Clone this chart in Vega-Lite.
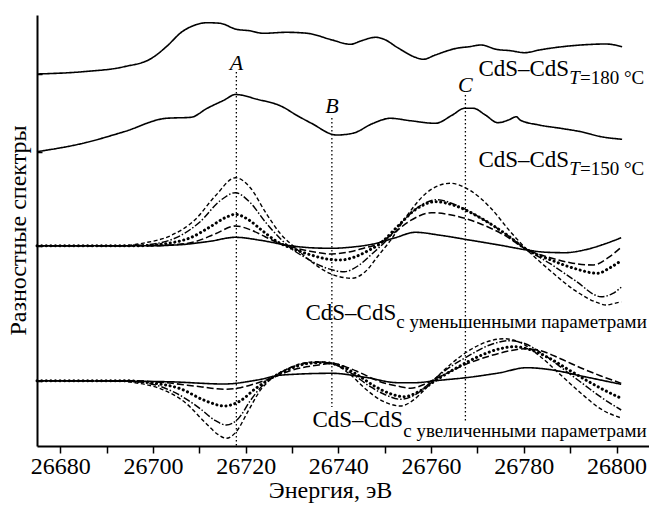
{
  "$schema": "https://vega.github.io/schema/vega-lite/v6.json",
  "width": 612,
  "height": 431,
  "autosize": {"type": "none"},
  "padding": {"left": 37, "top": 15, "right": 0, "bottom": 59},
  "background": "white",
  "config": {"view": {"stroke": null}, "font": "Liberation Serif"},
  "datasets": {
    "curves": [
      {"g":"t180","s":"solid","E":26675,"y":372},{"g":"t180","s":"solid","E":26684.9,"y":374.3},{"g":"t180","s":"solid","E":26693.8,"y":379.3},{"g":"t180","s":"solid","E":26699.7,"y":387.7},{"g":"t180","s":"solid","E":26702.9,"y":399.3},{"g":"t180","s":"solid","E":26706.3,"y":414.3},{"g":"t180","s":"solid","E":26709.1,"y":421},{"g":"t180","s":"solid","E":26711.7,"y":423.3},{"g":"t180","s":"solid","E":26714.5,"y":422.7},{"g":"t180","s":"solid","E":26718.0,"y":416.7},{"g":"t180","s":"solid","E":26720.8,"y":415.3},{"g":"t180","s":"solid","E":26723.8,"y":412.7},{"g":"t180","s":"solid","E":26728.8,"y":413.7},{"g":"t180","s":"solid","E":26733.3,"y":412.7},{"g":"t180","s":"solid","E":26738.7,"y":406},{"g":"t180","s":"solid","E":26742.6,"y":401.7},{"g":"t180","s":"solid","E":26745.0,"y":405.3},{"g":"t180","s":"solid","E":26748.0,"y":408.7},{"g":"t180","s":"solid","E":26749.7,"y":407},{"g":"t180","s":"solid","E":26753.0,"y":397.7},{"g":"t180","s":"solid","E":26756.6,"y":388.7},{"g":"t180","s":"solid","E":26758.3,"y":386.7},{"g":"t180","s":"solid","E":26760.9,"y":391},{"g":"t180","s":"solid","E":26765.5,"y":397.7},{"g":"t180","s":"solid","E":26768.2,"y":399.3},{"g":"t180","s":"solid","E":26770.8,"y":401},{"g":"t180","s":"solid","E":26774.0,"y":396.7},{"g":"t180","s":"solid","E":26777.1,"y":395.3},{"g":"t180","s":"solid","E":26780.2,"y":393.3},{"g":"t180","s":"solid","E":26783.3,"y":396},{"g":"t180","s":"solid","E":26792.3,"y":401},{"g":"t180","s":"solid","E":26797.7,"y":402},{"g":"t180","s":"solid","E":26801.2,"y":399.3},

      {"g":"t150","s":"solid","E":26675,"y":294.3},{"g":"t150","s":"solid","E":26684.9,"y":302.7},{"g":"t150","s":"solid","E":26693.8,"y":314.3},{"g":"t150","s":"solid","E":26702.9,"y":327.7},{"g":"t150","s":"solid","E":26708.2,"y":328.7},{"g":"t150","s":"solid","E":26711.7,"y":337.7},{"g":"t150","s":"solid","E":26715.4,"y":346},{"g":"t150","s":"solid","E":26717.8,"y":351.5},{"g":"t150","s":"solid","E":26722.5,"y":346.7},{"g":"t150","s":"solid","E":26727.9,"y":339.3},{"g":"t150","s":"solid","E":26730.9,"y":331},{"g":"t150","s":"solid","E":26734.2,"y":322.7},{"g":"t150","s":"solid","E":26739.6,"y":311},{"g":"t150","s":"solid","E":26743.1,"y":312.7},{"g":"t150","s":"solid","E":26747.5,"y":322.7},{"g":"t150","s":"solid","E":26751.2,"y":327.7},{"g":"t150","s":"solid","E":26755.5,"y":325.3},{"g":"t150","s":"solid","E":26760.9,"y":322.7},{"g":"t150","s":"solid","E":26764.6,"y":331},{"g":"t150","s":"solid","E":26767.2,"y":337.7},{"g":"t150","s":"solid","E":26769.1,"y":337.7},{"g":"t150","s":"solid","E":26771.7,"y":331},{"g":"t150","s":"solid","E":26774.4,"y":323.3},{"g":"t150","s":"solid","E":26776.7,"y":326},{"g":"t150","s":"solid","E":26778.4,"y":329.3},{"g":"t150","s":"solid","E":26779.2,"y":326},{"g":"t150","s":"solid","E":26783.3,"y":321},{"g":"t150","s":"solid","E":26787.9,"y":317.7},{"g":"t150","s":"solid","E":26792.3,"y":314.3},{"g":"t150","s":"solid","E":26796.7,"y":309.3},{"g":"t150","s":"solid","E":26801.2,"y":306.7},

      {"g":"dec","s":"solid","E":26675,"y":200.3},{"g":"dec","s":"solid","E":26699.4,"y":200.3},{"g":"dec","s":"solid","E":26705.9,"y":201.3},{"g":"dec","s":"solid","E":26712.4,"y":204.8},{"g":"dec","s":"solid","E":26717.8,"y":208.7},{"g":"dec","s":"solid","E":26723.1,"y":205.8},{"g":"dec","s":"solid","E":26729.6,"y":200.3},{"g":"dec","s":"solid","E":26733.9,"y":198.3},{"g":"dec","s":"solid","E":26738.5,"y":197.7},{"g":"dec","s":"solid","E":26742.6,"y":198.8},{"g":"dec","s":"solid","E":26747.5,"y":202},{"g":"dec","s":"solid","E":26752.3,"y":208.3},{"g":"dec","s":"solid","E":26756.6,"y":213.7},{"g":"dec","s":"solid","E":26761.9,"y":210.8},{"g":"dec","s":"solid","E":26768.2,"y":206},{"g":"dec","s":"solid","E":26774.9,"y":200.8},{"g":"dec","s":"solid","E":26780.7,"y":196},{"g":"dec","s":"solid","E":26784.6,"y":193.8},{"g":"dec","s":"solid","E":26788.8,"y":193.3},{"g":"dec","s":"solid","E":26793.3,"y":196.3},{"g":"dec","s":"solid","E":26797.6,"y":202.3},{"g":"dec","s":"solid","E":26801.0,"y":208.3},

      {"g":"dec","s":"dash","E":26675,"y":200.3},{"g":"dec","s":"dash","E":26699.4,"y":200.3},{"g":"dec","s":"dash","E":26704.8,"y":201.3},{"g":"dec","s":"dash","E":26709.1,"y":204.3},{"g":"dec","s":"dash","E":26713.5,"y":212.3},{"g":"dec","s":"dash","E":26717.8,"y":220},{"g":"dec","s":"dash","E":26721.0,"y":216.3},{"g":"dec","s":"dash","E":26724.2,"y":209.3},{"g":"dec","s":"dash","E":26727.5,"y":202.3},{"g":"dec","s":"dash","E":26729.6,"y":199.3},{"g":"dec","s":"dash","E":26733.9,"y":194.8},{"g":"dec","s":"dash","E":26738.5,"y":192},{"g":"dec","s":"dash","E":26742.6,"y":194.3},{"g":"dec","s":"dash","E":26745.8,"y":198.3},{"g":"dec","s":"dash","E":26747.5,"y":200.3},{"g":"dec","s":"dash","E":26751.2,"y":210.3},{"g":"dec","s":"dash","E":26755.5,"y":225.3},{"g":"dec","s":"dash","E":26760.1,"y":233.3},{"g":"dec","s":"dash","E":26764.1,"y":231.3},{"g":"dec","s":"dash","E":26770.6,"y":222.3},{"g":"dec","s":"dash","E":26776.0,"y":210.3},{"g":"dec","s":"dash","E":26780.7,"y":196.3},{"g":"dec","s":"dash","E":26785.7,"y":188.3},{"g":"dec","s":"dash","E":26790.0,"y":183.3},{"g":"dec","s":"dash","E":26795.0,"y":181},{"g":"dec","s":"dash","E":26798.2,"y":188.3},{"g":"dec","s":"dash","E":26801.0,"y":198.7},

      {"g":"dec","s":"dot","E":26675,"y":200.3},{"g":"dec","s":"dot","E":26697.3,"y":200.3},{"g":"dec","s":"dot","E":26702.7,"y":202.3},{"g":"dec","s":"dot","E":26708.1,"y":208.3},{"g":"dec","s":"dot","E":26712.4,"y":219.3},{"g":"dec","s":"dot","E":26715.6,"y":228.3},{"g":"dec","s":"dot","E":26717.8,"y":231.7},{"g":"dec","s":"dot","E":26720.6,"y":226.3},{"g":"dec","s":"dot","E":26723.6,"y":215.3},{"g":"dec","s":"dot","E":26726.8,"y":204.3},{"g":"dec","s":"dot","E":26729.6,"y":198.3},{"g":"dec","s":"dot","E":26733.9,"y":191.3},{"g":"dec","s":"dot","E":26737.2,"y":187.3},{"g":"dec","s":"dot","E":26740.4,"y":186},{"g":"dec","s":"dot","E":26743.7,"y":189.3},{"g":"dec","s":"dot","E":26746.4,"y":195.3},{"g":"dec","s":"dot","E":26749.0,"y":202.3},{"g":"dec","s":"dot","E":26752.3,"y":217.3},{"g":"dec","s":"dot","E":26756.6,"y":236.3},{"g":"dec","s":"dot","E":26760.9,"y":244.3},{"g":"dec","s":"dot","E":26765.2,"y":240.3},{"g":"dec","s":"dot","E":26770.6,"y":228.3},{"g":"dec","s":"dot","E":26776.0,"y":212.3},{"g":"dec","s":"dot","E":26780.7,"y":196.3},{"g":"dec","s":"dot","E":26785.7,"y":186.3},{"g":"dec","s":"dot","E":26791.1,"y":177.3},{"g":"dec","s":"dot","E":26795.9,"y":172.7},{"g":"dec","s":"dot","E":26798.6,"y":178.3},{"g":"dec","s":"dot","E":26801.0,"y":185.3},

      {"g":"dec","s":"dashdot","E":26675,"y":200.3},{"g":"dec","s":"dashdot","E":26695.1,"y":200.3},{"g":"dec","s":"dashdot","E":26700.5,"y":202.3},{"g":"dec","s":"dashdot","E":26705.9,"y":210.3},{"g":"dec","s":"dashdot","E":26710.2,"y":224.3},{"g":"dec","s":"dashdot","E":26714.5,"y":245.3},{"g":"dec","s":"dashdot","E":26717.8,"y":253.3},{"g":"dec","s":"dashdot","E":26721.0,"y":243.3},{"g":"dec","s":"dashdot","E":26724.2,"y":224.3},{"g":"dec","s":"dashdot","E":26727.5,"y":207.3},{"g":"dec","s":"dashdot","E":26729.6,"y":198.3},{"g":"dec","s":"dashdot","E":26732.9,"y":188.3},{"g":"dec","s":"dashdot","E":26737.2,"y":178.3},{"g":"dec","s":"dashdot","E":26741.3,"y":174.3},{"g":"dec","s":"dashdot","E":26744.3,"y":180.3},{"g":"dec","s":"dashdot","E":26747.3,"y":192.3},{"g":"dec","s":"dashdot","E":26750.1,"y":204.3},{"g":"dec","s":"dashdot","E":26753.4,"y":222.3},{"g":"dec","s":"dashdot","E":26757.7,"y":240.3},{"g":"dec","s":"dashdot","E":26761.3,"y":246.3},{"g":"dec","s":"dashdot","E":26765.2,"y":241.3},{"g":"dec","s":"dashdot","E":26770.6,"y":228.3},{"g":"dec","s":"dashdot","E":26776.0,"y":212.3},{"g":"dec","s":"dashdot","E":26780.7,"y":196.3},{"g":"dec","s":"dashdot","E":26785.7,"y":182.3},{"g":"dec","s":"dashdot","E":26791.1,"y":165.3},{"g":"dec","s":"dashdot","E":26796.7,"y":149.3},{"g":"dec","s":"dashdot","E":26799.1,"y":152.3},{"g":"dec","s":"dashdot","E":26801.0,"y":158.7},

      {"g":"dec","s":"sdash","E":26675,"y":200.3},{"g":"dec","s":"sdash","E":26693.0,"y":200.3},{"g":"dec","s":"sdash","E":26698.4,"y":203.3},{"g":"dec","s":"sdash","E":26703.8,"y":210.3},{"g":"dec","s":"sdash","E":26709.1,"y":226.3},{"g":"dec","s":"sdash","E":26713.5,"y":250.3},{"g":"dec","s":"sdash","E":26717.8,"y":268.3},{"g":"dec","s":"sdash","E":26721.0,"y":258.3},{"g":"dec","s":"sdash","E":26724.2,"y":234.3},{"g":"dec","s":"sdash","E":26727.5,"y":212.3},{"g":"dec","s":"sdash","E":26730.7,"y":198.3},{"g":"dec","s":"sdash","E":26733.9,"y":185.3},{"g":"dec","s":"sdash","E":26738.3,"y":172.3},{"g":"dec","s":"sdash","E":26743.0,"y":167.7},{"g":"dec","s":"sdash","E":26745.8,"y":174.3},{"g":"dec","s":"sdash","E":26748.6,"y":190.3},{"g":"dec","s":"sdash","E":26751.2,"y":205.3},{"g":"dec","s":"sdash","E":26754.5,"y":228.3},{"g":"dec","s":"sdash","E":26758.8,"y":252.3},{"g":"dec","s":"sdash","E":26764.1,"y":262.7},{"g":"dec","s":"sdash","E":26768.5,"y":255.3},{"g":"dec","s":"sdash","E":26772.8,"y":238.3},{"g":"dec","s":"sdash","E":26777.1,"y":214.3},{"g":"dec","s":"sdash","E":26780.7,"y":196.3},{"g":"dec","s":"sdash","E":26785.7,"y":175.3},{"g":"dec","s":"sdash","E":26791.1,"y":155.3},{"g":"dec","s":"sdash","E":26795.9,"y":143.3},{"g":"dec","s":"sdash","E":26797.7,"y":141},{"g":"dec","s":"sdash","E":26799.3,"y":142.3},{"g":"dec","s":"sdash","E":26801.0,"y":144.3},

      {"g":"inc","s":"solid","E":26675,"y":65.3},{"g":"inc","s":"solid","E":26702.9,"y":64.3},{"g":"inc","s":"solid","E":26715.4,"y":62},{"g":"inc","s":"solid","E":26722.5,"y":66},{"g":"inc","s":"solid","E":26727.9,"y":71},{"g":"inc","s":"solid","E":26738.6,"y":72.7},{"g":"inc","s":"solid","E":26745.8,"y":68.7},{"g":"inc","s":"solid","E":26752.9,"y":63.3},{"g":"inc","s":"solid","E":26756.6,"y":63.3},{"g":"inc","s":"solid","E":26760.9,"y":65.3},{"g":"inc","s":"solid","E":26768.2,"y":68.7},{"g":"inc","s":"solid","E":26774.9,"y":73.3},{"g":"inc","s":"solid","E":26780.6,"y":78.3},{"g":"inc","s":"solid","E":26786.2,"y":76},{"g":"inc","s":"solid","E":26792.4,"y":70},{"g":"inc","s":"solid","E":26801.0,"y":61.7},

      {"g":"inc","s":"dash","E":26675,"y":65.3},{"g":"inc","s":"dash","E":26695.1,"y":65.3},{"g":"inc","s":"dash","E":26702.7,"y":63.3},{"g":"inc","s":"dash","E":26710.2,"y":59.3},{"g":"inc","s":"dash","E":26715.4,"y":56.7},{"g":"inc","s":"dash","E":26718.9,"y":58.3},{"g":"inc","s":"dash","E":26722.7,"y":63.3},{"g":"inc","s":"dash","E":26725.3,"y":67.3},{"g":"inc","s":"dash","E":26729.6,"y":75.3},{"g":"inc","s":"dash","E":26736.1,"y":81.3},{"g":"inc","s":"dash","E":26738.6,"y":82.7},{"g":"inc","s":"dash","E":26741.5,"y":79.3},{"g":"inc","s":"dash","E":26744.7,"y":73.3},{"g":"inc","s":"dash","E":26749.0,"y":64.3},{"g":"inc","s":"dash","E":26753.4,"y":59.3},{"g":"inc","s":"dash","E":26755.6,"y":57.7},{"g":"inc","s":"dash","E":26758.8,"y":62.3},{"g":"inc","s":"dash","E":26761.9,"y":69.3},{"g":"inc","s":"dash","E":26766.3,"y":79.3},{"g":"inc","s":"dash","E":26772.8,"y":90.3},{"g":"inc","s":"dash","E":26777.1,"y":95.3},{"g":"inc","s":"dash","E":26780.2,"y":97.3},{"g":"inc","s":"dash","E":26783.6,"y":95.3},{"g":"inc","s":"dash","E":26787.9,"y":87.3},{"g":"inc","s":"dash","E":26792.2,"y":78.3},{"g":"inc","s":"dash","E":26796.5,"y":70.3},{"g":"inc","s":"dash","E":26801.0,"y":62.7},

      {"g":"inc","s":"dot","E":26675,"y":65.3},{"g":"inc","s":"dot","E":26693.0,"y":65.3},{"g":"inc","s":"dot","E":26699.4,"y":63.3},{"g":"inc","s":"dot","E":26705.9,"y":57.3},{"g":"inc","s":"dot","E":26711.3,"y":45.3},{"g":"inc","s":"dot","E":26715.4,"y":40},{"g":"inc","s":"dot","E":26718.9,"y":45.3},{"g":"inc","s":"dot","E":26722.1,"y":57.3},{"g":"inc","s":"dot","E":26725.3,"y":67.3},{"g":"inc","s":"dot","E":26729.6,"y":77.3},{"g":"inc","s":"dot","E":26733.9,"y":82.8},{"g":"inc","s":"dot","E":26736.8,"y":83.3},{"g":"inc","s":"dot","E":26740.4,"y":80.3},{"g":"inc","s":"dot","E":26743.7,"y":72.3},{"g":"inc","s":"dot","E":26748.0,"y":59.3},{"g":"inc","s":"dot","E":26751.2,"y":52.3},{"g":"inc","s":"dot","E":26754.2,"y":49.3},{"g":"inc","s":"dot","E":26757.7,"y":55.3},{"g":"inc","s":"dot","E":26760.9,"y":65.3},{"g":"inc","s":"dot","E":26765.2,"y":77.3},{"g":"inc","s":"dot","E":26770.6,"y":90.3},{"g":"inc","s":"dot","E":26774.9,"y":97.3},{"g":"inc","s":"dot","E":26778.0,"y":99.3},{"g":"inc","s":"dot","E":26781.4,"y":96.3},{"g":"inc","s":"dot","E":26785.7,"y":87.3},{"g":"inc","s":"dot","E":26790.0,"y":75.3},{"g":"inc","s":"dot","E":26794.4,"y":63.3},{"g":"inc","s":"dot","E":26797.6,"y":55.3},{"g":"inc","s":"dot","E":26801.0,"y":47.7},

      {"g":"inc","s":"dashdot","E":26675,"y":65.3},{"g":"inc","s":"dashdot","E":26693.0,"y":65.3},{"g":"inc","s":"dashdot","E":26699.4,"y":62.3},{"g":"inc","s":"dashdot","E":26704.8,"y":53.3},{"g":"inc","s":"dashdot","E":26710.2,"y":37.3},{"g":"inc","s":"dashdot","E":26713.5,"y":25.3},{"g":"inc","s":"dashdot","E":26715.8,"y":21},{"g":"inc","s":"dashdot","E":26718.4,"y":27.3},{"g":"inc","s":"dashdot","E":26721.0,"y":45.3},{"g":"inc","s":"dashdot","E":26723.6,"y":60.3},{"g":"inc","s":"dashdot","E":26725.8,"y":68.3},{"g":"inc","s":"dashdot","E":26729.6,"y":78.3},{"g":"inc","s":"dashdot","E":26733.9,"y":83.3},{"g":"inc","s":"dashdot","E":26735.9,"y":83.8},{"g":"inc","s":"dashdot","E":26739.3,"y":81.3},{"g":"inc","s":"dashdot","E":26742.6,"y":73.3},{"g":"inc","s":"dashdot","E":26746.9,"y":59.3},{"g":"inc","s":"dashdot","E":26750.1,"y":51.3},{"g":"inc","s":"dashdot","E":26753.4,"y":46.7},{"g":"inc","s":"dashdot","E":26756.6,"y":51.3},{"g":"inc","s":"dashdot","E":26759.8,"y":63.3},{"g":"inc","s":"dashdot","E":26763.0,"y":75.3},{"g":"inc","s":"dashdot","E":26768.5,"y":91.3},{"g":"inc","s":"dashdot","E":26772.8,"y":101.3},{"g":"inc","s":"dashdot","E":26776.7,"y":105.3},{"g":"inc","s":"dashdot","E":26780.3,"y":102.3},{"g":"inc","s":"dashdot","E":26784.6,"y":90.3},{"g":"inc","s":"dashdot","E":26789.0,"y":75.3},{"g":"inc","s":"dashdot","E":26793.3,"y":60.3},{"g":"inc","s":"dashdot","E":26796.5,"y":49.3},{"g":"inc","s":"dashdot","E":26801.0,"y":36},

      {"g":"inc","s":"sdash","E":26675,"y":65.3},{"g":"inc","s":"sdash","E":26690.8,"y":65.3},{"g":"inc","s":"sdash","E":26696.2,"y":63.3},{"g":"inc","s":"sdash","E":26701.6,"y":57.3},{"g":"inc","s":"sdash","E":26707.0,"y":43.3},{"g":"inc","s":"sdash","E":26711.3,"y":23.3},{"g":"inc","s":"sdash","E":26714.1,"y":11.3},{"g":"inc","s":"sdash","E":26715.8,"y":7.7},{"g":"inc","s":"sdash","E":26717.8,"y":13.3},{"g":"inc","s":"sdash","E":26720.6,"y":35.3},{"g":"inc","s":"sdash","E":26723.1,"y":55.3},{"g":"inc","s":"sdash","E":26725.3,"y":66.3},{"g":"inc","s":"sdash","E":26729.6,"y":78.3},{"g":"inc","s":"sdash","E":26732.9,"y":83.3},{"g":"inc","s":"sdash","E":26735.9,"y":84.3},{"g":"inc","s":"sdash","E":26739.3,"y":81.3},{"g":"inc","s":"sdash","E":26742.6,"y":71.3},{"g":"inc","s":"sdash","E":26745.8,"y":57.3},{"g":"inc","s":"sdash","E":26749.0,"y":46.3},{"g":"inc","s":"sdash","E":26751.6,"y":41.3},{"g":"inc","s":"sdash","E":26753.4,"y":40},{"g":"inc","s":"sdash","E":26756.0,"y":45.3},{"g":"inc","s":"sdash","E":26758.8,"y":57.3},{"g":"inc","s":"sdash","E":26760.9,"y":67.3},{"g":"inc","s":"sdash","E":26764.1,"y":81.3},{"g":"inc","s":"sdash","E":26768.5,"y":96.3},{"g":"inc","s":"sdash","E":26772.8,"y":105.3},{"g":"inc","s":"sdash","E":26775.8,"y":107.3},{"g":"inc","s":"sdash","E":26779.3,"y":103.3},{"g":"inc","s":"sdash","E":26783.6,"y":89.3},{"g":"inc","s":"sdash","E":26787.9,"y":71.3},{"g":"inc","s":"sdash","E":26792.2,"y":53.3},{"g":"inc","s":"sdash","E":26796.5,"y":37.3},{"g":"inc","s":"sdash","E":26801.0,"y":28}
    ],
    "markers": [
      {"label":"A","E":26718.0,"y":374,"y2":0},
      {"label":"B","E":26738.6,"y":328,"y2":39},
      {"label":"C","E":26767.4,"y":351,"y2":23}
    ],
    "labels": [
      {"kind":"letter","text":"A","E":26718.0,"y":376},
      {"kind":"letter","text":"B","E":26738.6,"y":333},
      {"kind":"letter","text":"C","E":26767.4,"y":354},
      {"kind":"main","text":"CdS–CdS","E":26770.2,"y":370},
      {"kind":"main","text":"CdS–CdS","E":26770.2,"y":279},
      {"kind":"main","text":"CdS–CdS","E":26732.9,"y":126},
      {"kind":"main","text":"CdS–CdS","E":26734.4,"y":19},
      {"kind":"subT","text":"T","E":26789.8,"y":362},
      {"kind":"subT","text":"T","E":26789.8,"y":271},
      {"kind":"sub","text":"=180 °C","E":26792.1,"y":362},
      {"kind":"sub","text":"=150 °C","E":26792.1,"y":271},
      {"kind":"sub","text":"с уменьшенными параметрами","E":26752.5,"y":118},
      {"kind":"sub","text":"с увеличенными параметрами","E":26754.0,"y":9}
    ]
  },
  "encoding": {
    "x": {
      "field": "E", "type": "quantitative",
      "scale": {"domain": [26675, 26807], "nice": false, "zero": false},
      "axis": {
        "values": [26680, 26690, 26700, 26710, 26720, 26730, 26740, 26750, 26760, 26770, 26780, 26790, 26800],
        "format": "d",
        "labelExpr": "datum.value % 20 === 0 ? datum.label : ''",
        "grid": false, "tickSize": 7, "tickWidth": 1.5, "tickColor": "black",
        "domainColor": "black", "domainWidth": 2,
        "labelFont": "Liberation Serif", "labelFontSize": 24, "labelColor": "black",
        "labelPadding": 1, "labelFlush": false, "labelOverlap": false,
        "title": "Энергия, эВ", "titleFont": "Liberation Serif", "titleFontSize": 24,
        "titleFontWeight": "normal", "titleColor": "black",
        "titleX": 293, "titleY": 51, "titleBaseline": "alphabetic", "titleAlign": "center"
      }
    },
    "y": {
      "field": "y", "type": "quantitative",
      "scale": {"domain": [0, 431], "nice": false, "zero": false},
      "axis": {
        "values": [65.3, 200.3, 294.3, 372],
        "labels": false, "grid": false, "tickSize": -5, "tickWidth": 1.5, "tickColor": "black",
        "domainColor": "black", "domainWidth": 2,
        "title": "Разностные спектры", "titleFont": "Liberation Serif", "titleFontSize": 24,
        "titleFontWeight": "normal", "titleColor": "black",
        "titleX": -19, "titleY": 215, "titleAngle": -90, "titleBaseline": "middle", "titleAlign": "center"
      }
    }
  },
  "layer": [
    {
      "data": {"name": "markers"},
      "mark": {"type": "rule", "color": "black", "strokeWidth": 1.3, "strokeDash": [1.5, 2.5]},
      "encoding": {"y2": {"field": "y2"}}
    },
    {
      "data": {"name": "curves"},
      "transform": [{"filter": "datum.s !== 'dot'"}],
      "mark": {"type": "line", "color": "black", "interpolate": "monotone"},
      "encoding": {
        "detail": {"field": "g"},
        "strokeDash": {
          "field": "s", "type": "nominal", "legend": null,
          "scale": {"domain": ["solid", "dash", "dashdot", "sdash"],
                    "range": [[1, 0], [7, 3], [7, 2, 1.5, 2], [4, 2.5]]}
        },
        "strokeWidth": {
          "field": "s", "type": "nominal", "legend": null,
          "scale": {"domain": ["solid", "dash", "dashdot", "sdash"],
                    "range": [1.6, 1.4, 1.3, 1.8]}
        }
      }
    },
    {
      "data": {"name": "curves"},
      "transform": [{"filter": "datum.s === 'dot'"}],
      "mark": {"type": "line", "color": "black", "interpolate": "monotone", "strokeWidth": 3, "strokeCap": "round", "strokeDash": [0.1, 4.5]},
      "encoding": {"detail": {"field": "g"}}
    },
    {
      "data": {"name": "labels"},
      "transform": [{"filter": "datum.kind === 'letter'"}],
      "mark": {"type": "text", "font": "Liberation Serif", "fontSize": 22, "fontStyle": "italic", "align": "center", "baseline": "alphabetic", "color": "black"},
      "encoding": {"text": {"field": "text"}}
    },
    {
      "data": {"name": "labels"},
      "transform": [{"filter": "datum.kind === 'main'"}],
      "mark": {"type": "text", "font": "Liberation Serif", "fontSize": 23, "align": "left", "baseline": "alphabetic", "color": "black"},
      "encoding": {"text": {"field": "text"}}
    },
    {
      "data": {"name": "labels"},
      "transform": [{"filter": "datum.kind === 'subT'"}],
      "mark": {"type": "text", "font": "Liberation Serif", "fontSize": 19, "fontStyle": "italic", "align": "left", "baseline": "alphabetic", "color": "black"},
      "encoding": {"text": {"field": "text"}}
    },
    {
      "data": {"name": "labels"},
      "transform": [{"filter": "datum.kind === 'sub'"}],
      "mark": {"type": "text", "font": "Liberation Serif", "fontSize": 19, "align": "left", "baseline": "alphabetic", "color": "black"},
      "encoding": {"text": {"field": "text"}}
    }
  ]
}
